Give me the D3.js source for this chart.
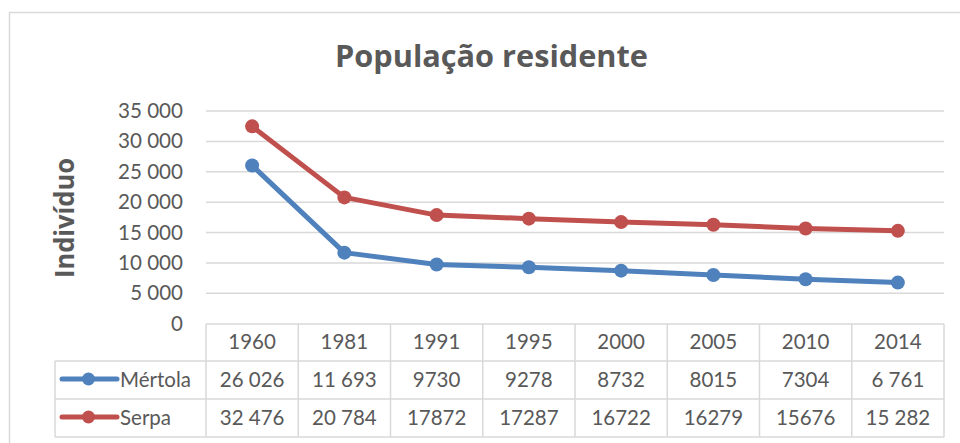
<!DOCTYPE html>
<html>
<head>
<meta charset="utf-8">
<script src="https://cdn.jsdelivr.net/npm/d3@7"></script>
<style>
  html, body { margin: 0; padding: 0; background: #fff; }
  svg { display: block; }
</style>
</head>
<body>
<svg id="chart" width="960" height="443"></svg>
<script>
const years = ["1960", "1981", "1991", "1995", "2000", "2005", "2010", "2014"];
const mertola = [26026, 11693, 9730, 9278, 8732, 8015, 7304, 6761];
const serpa = [32476, 20784, 17872, 17287, 16722, 16279, 15676, 15282];
const mertolaLabels = ["26 026", "11 693", "9730", "9278", "8732", "8015", "7304", "6 761"];
const serpaLabels = ["32 476", "20 784", "17872", "17287", "16722", "16279", "15676", "15 282"];
const yTicks = [0, 5000, 10000, 15000, 20000, 25000, 30000, 35000];
const seriesNames = ["Mértola", "Serpa"];
const colors = ["#4F81BD", "#C0504D"];
const titleText = "População residente";
const yTitle = "Indivíduo";

const svg = d3.select("#chart");
const textColor = "#595959";
const gridColor = "#d9d9d9";
const font = "Lato, 'Open Sans', sans-serif";

// chart frame
svg.append("rect")
  .attr("x", 9.5).attr("y", 12.5)
  .attr("width", 1000).attr("height", 500)
  .attr("fill", "#fff").attr("stroke", gridColor).attr("stroke-width", 1.5);

const x = d3.scaleBand().domain(years).range([206, 944]).padding(0);
const y = d3.scaleLinear().domain([0, 35000]).range([323.7, 111]);

const fmt = d3.formatLocale({ decimal: ",", thousands: " ", grouping: [3], currency: ["", "€"] }).format(",d");

// gridlines
svg.append("g").selectAll("line")
  .data(yTicks.filter(d => d > 0))
  .join("line")
  .attr("x1", 206).attr("x2", 944)
  .attr("y1", d => y(d)).attr("y2", d => y(d))
  .attr("stroke", gridColor).attr("stroke-width", 1.5);

// y axis tick labels
svg.append("g").selectAll("text")
  .data(yTicks)
  .join("text")
  .attr("x", 183)
  .attr("y", d => y(d) + 7)
  .attr("text-anchor", "end")
  .attr("font-family", font).attr("font-size", 20.5)
  .attr("fill", textColor)
  .attr("textLength", d => d >= 10000 ? 65 : null)
  .attr("lengthAdjust", "spacingAndGlyphs")
  .text(d => fmt(d));

// title
svg.append("text")
  .attr("x", 491.5).attr("y", 67)
  .attr("text-anchor", "middle")
  .attr("font-family", "'Open Sans', sans-serif").attr("font-weight", "bold")
  .attr("font-size", 31)
  .attr("fill", textColor)
  .attr("textLength", 313).attr("lengthAdjust", "spacingAndGlyphs")
  .text(titleText);

// y title
svg.append("text")
  .attr("transform", "translate(73.5,218) rotate(-90)")
  .attr("text-anchor", "middle")
  .attr("font-family", "'Open Sans', sans-serif").attr("font-weight", "bold")
  .attr("font-size", 26)
  .attr("fill", textColor)
  .attr("textLength", 120).attr("lengthAdjust", "spacingAndGlyphs")
  .text(yTitle);

// lines
const series = [mertola, serpa];
const line = d3.line()
  .x((d, i) => x(years[i]) + x.bandwidth() / 2)
  .y(d => y(d));

series.forEach((s, k) => {
  svg.append("path")
    .datum(s)
    .attr("d", line)
    .attr("fill", "none")
    .attr("stroke", colors[k])
    .attr("stroke-width", 5)
    .attr("stroke-linejoin", "round");
  svg.append("g").selectAll("circle")
    .data(s)
    .join("circle")
    .attr("cx", (d, i) => x(years[i]) + x.bandwidth() / 2)
    .attr("cy", d => y(d))
    .attr("r", 7)
    .attr("fill", colors[k]);
});

// data table
const rowTop = [324, 361, 399, 437];
const tbl = svg.append("g").attr("stroke", gridColor).attr("stroke-width", 1.5);
tbl.append("line").attr("x1", 206).attr("x2", 944).attr("y1", rowTop[0]).attr("y2", rowTop[0]);
[rowTop[1], rowTop[2], rowTop[3]].forEach(yy => {
  tbl.append("line").attr("x1", 55).attr("x2", 944).attr("y1", yy).attr("y2", yy);
});
tbl.append("line").attr("x1", 55).attr("x2", 55).attr("y1", rowTop[1]).attr("y2", rowTop[3]);
const bounds = years.map(yr => x(yr)).concat([944]);
bounds.forEach(bx => {
  tbl.append("line").attr("x1", bx).attr("x2", bx).attr("y1", rowTop[0]).attr("y2", rowTop[3]);
});

const cellText = (arr, baseline) => {
  svg.append("g").selectAll("text")
    .data(arr)
    .join("text")
    .attr("x", (d, i) => x(years[i]) + x.bandwidth() / 2)
    .attr("y", baseline)
    .attr("text-anchor", "middle")
    .attr("font-family", font).attr("font-size", 20.5)
    .attr("fill", textColor)
    .text(d => d);
};
cellText(years, 349);
cellText(mertolaLabels, 387);
cellText(serpaLabels, 425);

// legend keys in table
const legendY = [379, 417];
seriesNames.forEach((name, k) => {
  svg.append("line")
    .attr("x1", 62).attr("x2", 117)
    .attr("y1", legendY[k]).attr("y2", legendY[k])
    .attr("stroke", colors[k]).attr("stroke-width", 5).attr("stroke-linecap", "round");
  svg.append("circle")
    .attr("cx", 88.5).attr("cy", legendY[k]).attr("r", 6.5)
    .attr("fill", colors[k]);
  svg.append("text")
    .attr("x", 120).attr("y", legendY[k] + 8)
    .attr("font-family", font).attr("font-size", 20.5)
    .attr("fill", textColor)
    .text(name);
});
</script>
</body>
</html>
